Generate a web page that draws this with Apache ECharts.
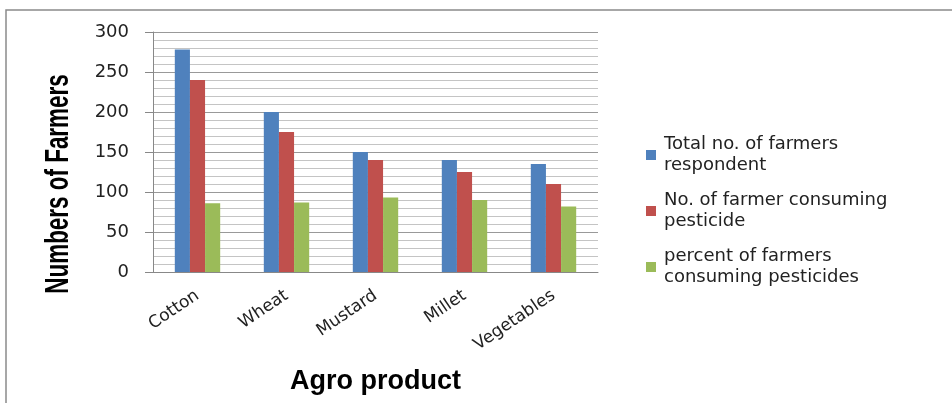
<!DOCTYPE html>
<html><head><meta charset="utf-8">
<script src="https://cdn.jsdelivr.net/npm/echarts@6/dist/echarts.min.js"></script>
<style>html,body{margin:0;padding:0;background:#fff}#c{width:952px;height:403px}</style>
</head><body><div id="c"></div>
<script>
const categories = ['Cotton', 'Wheat', 'Mustard', 'Millet', 'Vegetables'];
const totalRespondents = [278, 200, 150, 140, 135];
const consumingPesticide = [240, 175, 140, 125, 110];
const percentConsuming = [86, 87, 93, 90, 82];
const seriesNames = ['Total no. of farmers\nrespondent', 'No. of farmer consuming\npesticide', 'percent of farmers\nconsuming pesticides'];
const yTicks = [0, 50, 100, 150, 200, 250, 300];
const yTitle = 'Numbers of Farmers';
const xTitle = 'Agro product';

const chart = echarts.init(document.getElementById('c'));
chart.setOption({
  animation: false,
  color: ['#4F81BD', '#C0504D', '#9BBB59'],
  graphic: [
    { type: 'rect', shape: { x: 6, y: 10, width: 1000, height: 450 }, style: { fill: 'none', stroke: '#8a8a8a', lineWidth: 1.5 }, silent: true },
    { type: 'text', x: 59, y: 184, rotation: Math.PI / 2, scaleX: 0.68, scaleY: 1,
      style: { text: yTitle, fontFamily: 'Liberation Sans, Arial, sans-serif', fontWeight: 'bold', fontSize: 33, fill: '#000', align: 'center', verticalAlign: 'middle' } }
  ],
  grid: { left: 153, top: 32, width: 445, height: 240, containLabel: false },
  legend: {
    orient: 'vertical', left: 641, top: 129, itemWidth: 10, itemHeight: 10, itemGap: 14, icon: 'rect',
    textStyle: { fontFamily: 'DejaVu Sans, sans-serif', fontSize: 18, color: '#222', lineHeight: 21, padding: [0, 0, 0, 3] },
    data: seriesNames
  },
  xAxis: {
    type: 'category', data: categories,
    name: xTitle, nameLocation: 'middle', nameGap: 96,
    nameTextStyle: { fontFamily: 'Liberation Sans, Arial, sans-serif', fontWeight: 'bold', fontSize: 27, color: '#000' },
    axisLine: { lineStyle: { color: '#888' } }, axisTick: { show: false },
    axisLabel: { rotate: 34, fontFamily: 'DejaVu Sans, sans-serif', fontSize: 17, color: '#222', margin: 22 }
  },
  yAxis: {
    type: 'value', min: 0, max: 300, interval: 50,
    axisLine: { show: true, lineStyle: { color: '#888' } },
    axisTick: { show: true, length: 8, lineStyle: { color: '#888' } },
    axisLabel: { fontFamily: 'DejaVu Sans, sans-serif', fontSize: 18, color: '#222', margin: 24,
      formatter: v => yTicks.includes(v) ? String(v) : '' },
    splitLine: { lineStyle: { color: '#999' } },
    minorTick: { show: false, splitNumber: 5 },
    minorSplitLine: { show: true, lineStyle: { color: '#c4c4c4' } }
  },
  series: [
    { name: seriesNames[0], type: 'bar', data: totalRespondents, barGap: '0%', barCategoryGap: '49%' },
    { name: seriesNames[1], type: 'bar', data: consumingPesticide, barGap: '0%', barCategoryGap: '49%' },
    { name: seriesNames[2], type: 'bar', data: percentConsuming, barGap: '0%', barCategoryGap: '49%' }
  ]
});
</script></body></html>
